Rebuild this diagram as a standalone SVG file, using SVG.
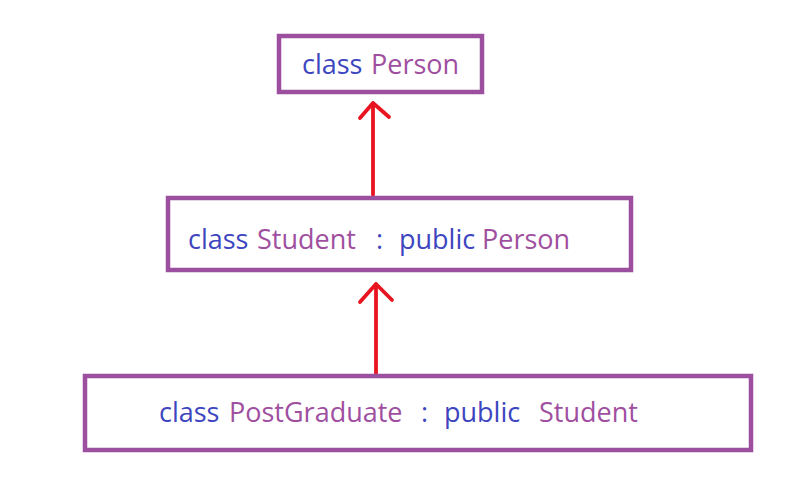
<svg xmlns="http://www.w3.org/2000/svg" width="798" height="495" viewBox="0 0 798 495">
<style>
.box{fill:#fff;stroke:#9c4f9f;stroke-width:4.5}
.t{font-family:"Open Sans","Noto Sans",sans-serif;font-size:27px}
.kw{fill:#3d46bf}
.nm{fill:#a04fa0}
.arr{stroke:#e8141f;stroke-width:3.8;fill:none;stroke-linecap:round;stroke-linejoin:round}
</style>
<rect width="798" height="495" fill="#fff"/>
<g id="connectors">
<path class="arr" d="M373,195 V103 M360,118 L373,103 L389,117"/>
<path class="arr" d="M376,375 V284 M360,302 L376,284 L392,300"/>
</g>
<g id="person">
<rect class="box" x="279" y="36" width="203" height="56"/>
<text class="t" y="74"><tspan class="kw" x="302">class</tspan><tspan class="nm" x="371">Person</tspan></text>
</g>
<g id="student">
<rect class="box" x="168" y="198" width="463" height="72"/>
<text class="t" y="249"><tspan class="kw" x="188">class</tspan><tspan class="nm" x="257">Student</tspan><tspan class="kw" x="376">:</tspan><tspan class="kw" x="399">public</tspan><tspan class="nm" x="482">Person</tspan></text>
</g>
<g id="postgraduate">
<rect class="box" x="85" y="376" width="666" height="74"/>
<text class="t" y="422"><tspan class="kw" x="159">class</tspan><tspan class="nm" x="229">PostGraduate</tspan><tspan class="kw" x="421">:</tspan><tspan class="kw" x="444">public</tspan><tspan class="nm" x="539">Student</tspan></text>
</g>
</svg>
